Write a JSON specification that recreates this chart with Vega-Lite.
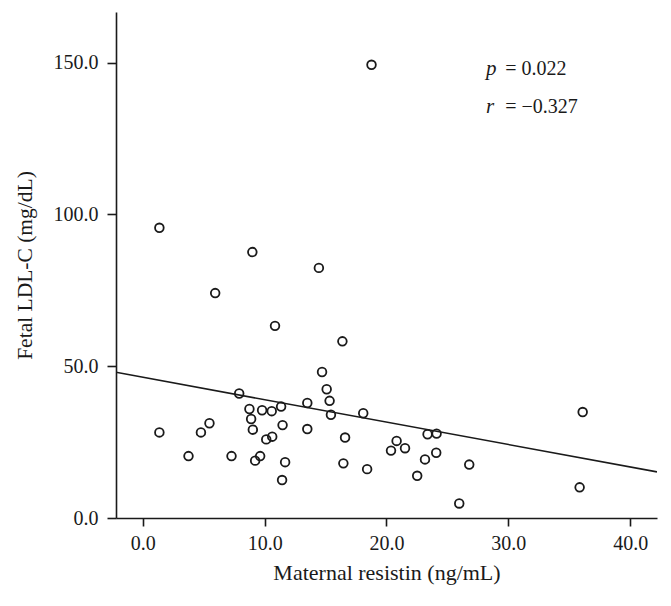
{
  "$schema": "https://vega.github.io/schema/vega-lite/v6.json",
  "width": 541,
  "height": 506,
  "autosize": "none",
  "padding": {"left": 116, "top": 12, "right": 14, "bottom": 88},
  "background": "white",
  "config": {
    "view": {"stroke": null},
    "font": "Liberation Serif",
    "axis": {
      "grid": false,
      "domainColor": "#1a1a1a",
      "domainWidth": 1.6,
      "tickColor": "#1a1a1a",
      "tickWidth": 1.6,
      "labelFont": "Liberation Serif",
      "labelFontSize": 20,
      "labelColor": "#1a1a1a",
      "titleFont": "Liberation Serif",
      "titleFontSize": 22,
      "titleFontWeight": "normal",
      "titleColor": "#1a1a1a"
    }
  },
  "datasets": {
    "pts": [
      {"resistin": 18.77, "ldl": 149.3},
      {"resistin": 1.36, "ldl": 95.6},
      {"resistin": 8.99, "ldl": 87.6},
      {"resistin": 14.45, "ldl": 82.4},
      {"resistin": 5.94, "ldl": 74.1},
      {"resistin": 10.85, "ldl": 63.3},
      {"resistin": 16.38, "ldl": 58.2},
      {"resistin": 14.71, "ldl": 48.1},
      {"resistin": 15.09, "ldl": 42.4},
      {"resistin": 15.33, "ldl": 38.6},
      {"resistin": 15.44, "ldl": 34.0},
      {"resistin": 7.91, "ldl": 41.0},
      {"resistin": 13.5, "ldl": 37.9},
      {"resistin": 11.35, "ldl": 36.7},
      {"resistin": 8.75, "ldl": 35.9},
      {"resistin": 9.79, "ldl": 35.5},
      {"resistin": 10.58, "ldl": 35.2},
      {"resistin": 18.09, "ldl": 34.5},
      {"resistin": 8.89, "ldl": 32.6},
      {"resistin": 5.47, "ldl": 31.2},
      {"resistin": 1.36, "ldl": 28.2},
      {"resistin": 4.77, "ldl": 28.2},
      {"resistin": 9.03, "ldl": 29.1},
      {"resistin": 11.47, "ldl": 30.6},
      {"resistin": 13.5, "ldl": 29.3},
      {"resistin": 10.13, "ldl": 25.9},
      {"resistin": 10.62, "ldl": 26.8},
      {"resistin": 16.6, "ldl": 26.5},
      {"resistin": 3.75, "ldl": 20.4},
      {"resistin": 7.28, "ldl": 20.4},
      {"resistin": 9.63, "ldl": 20.4},
      {"resistin": 9.22, "ldl": 18.9},
      {"resistin": 11.68, "ldl": 18.4},
      {"resistin": 16.46, "ldl": 18.0},
      {"resistin": 18.41, "ldl": 16.1},
      {"resistin": 11.43, "ldl": 12.5},
      {"resistin": 20.37, "ldl": 22.2},
      {"resistin": 20.83, "ldl": 25.4},
      {"resistin": 21.52, "ldl": 23.0},
      {"resistin": 23.37, "ldl": 27.6},
      {"resistin": 24.11, "ldl": 27.8},
      {"resistin": 23.16, "ldl": 19.3},
      {"resistin": 24.08, "ldl": 21.5},
      {"resistin": 22.52, "ldl": 13.9},
      {"resistin": 26.79, "ldl": 17.6},
      {"resistin": 25.97, "ldl": 4.8},
      {"resistin": 36.1, "ldl": 34.9},
      {"resistin": 35.85, "ldl": 10.1}
    ],
    "fit": [
      {"resistin": -2.2, "ldl": 48.0},
      {"resistin": 42.2, "ldl": 15.2}
    ],
    "sym": [
      {"resistin": 28.17, "ldl": 146.0, "label": "p"},
      {"resistin": 28.17, "ldl": 133.3, "label": "r"}
    ],
    "val": [
      {"resistin": 29.75, "ldl": 146.0, "label": "= 0.022"},
      {"resistin": 29.75, "ldl": 133.3, "label": "= \u22120.327"}
    ]
  },
  "encoding": {
    "x": {
      "field": "resistin",
      "type": "quantitative",
      "scale": {"domain": [-2.2, 42.2], "nice": false, "zero": false},
      "axis": {
        "title": "Maternal resistin (ng/mL)",
        "values": [0, 10, 20, 30, 40],
        "format": ".1f",
        "tickSize": 8,
        "labelPadding": 7,
        "titlePadding": 9
      }
    },
    "y": {
      "field": "ldl",
      "type": "quantitative",
      "scale": {"domain": [0, 166.7], "nice": false, "zero": false},
      "axis": {
        "title": "Fetal LDL-C (mg/dL)",
        "titleFontSize": 21.5,
        "values": [0, 50, 100, 150],
        "format": ".1f",
        "tickSize": 9,
        "labelPadding": 9,
        "titlePadding": 17
      }
    }
  },
  "layer": [
    {
      "data": {"name": "fit"},
      "mark": {"type": "line", "color": "#1a1a1a", "strokeWidth": 1.6, "clip": true}
    },
    {
      "data": {"name": "pts"},
      "mark": {"type": "point", "shape": "circle", "filled": false, "color": "#1a1a1a", "strokeWidth": 1.8, "size": 75, "opacity": 1}
    },
    {
      "data": {"name": "sym"},
      "mark": {"type": "text", "align": "left", "baseline": "alphabetic", "font": "Liberation Serif", "fontSize": 21, "fontStyle": "italic", "color": "#1a1a1a"},
      "encoding": {"text": {"field": "label"}}
    },
    {
      "data": {"name": "val"},
      "mark": {"type": "text", "align": "left", "baseline": "alphabetic", "font": "Liberation Serif", "fontSize": 20, "color": "#1a1a1a"},
      "encoding": {"text": {"field": "label"}}
    }
  ]
}
